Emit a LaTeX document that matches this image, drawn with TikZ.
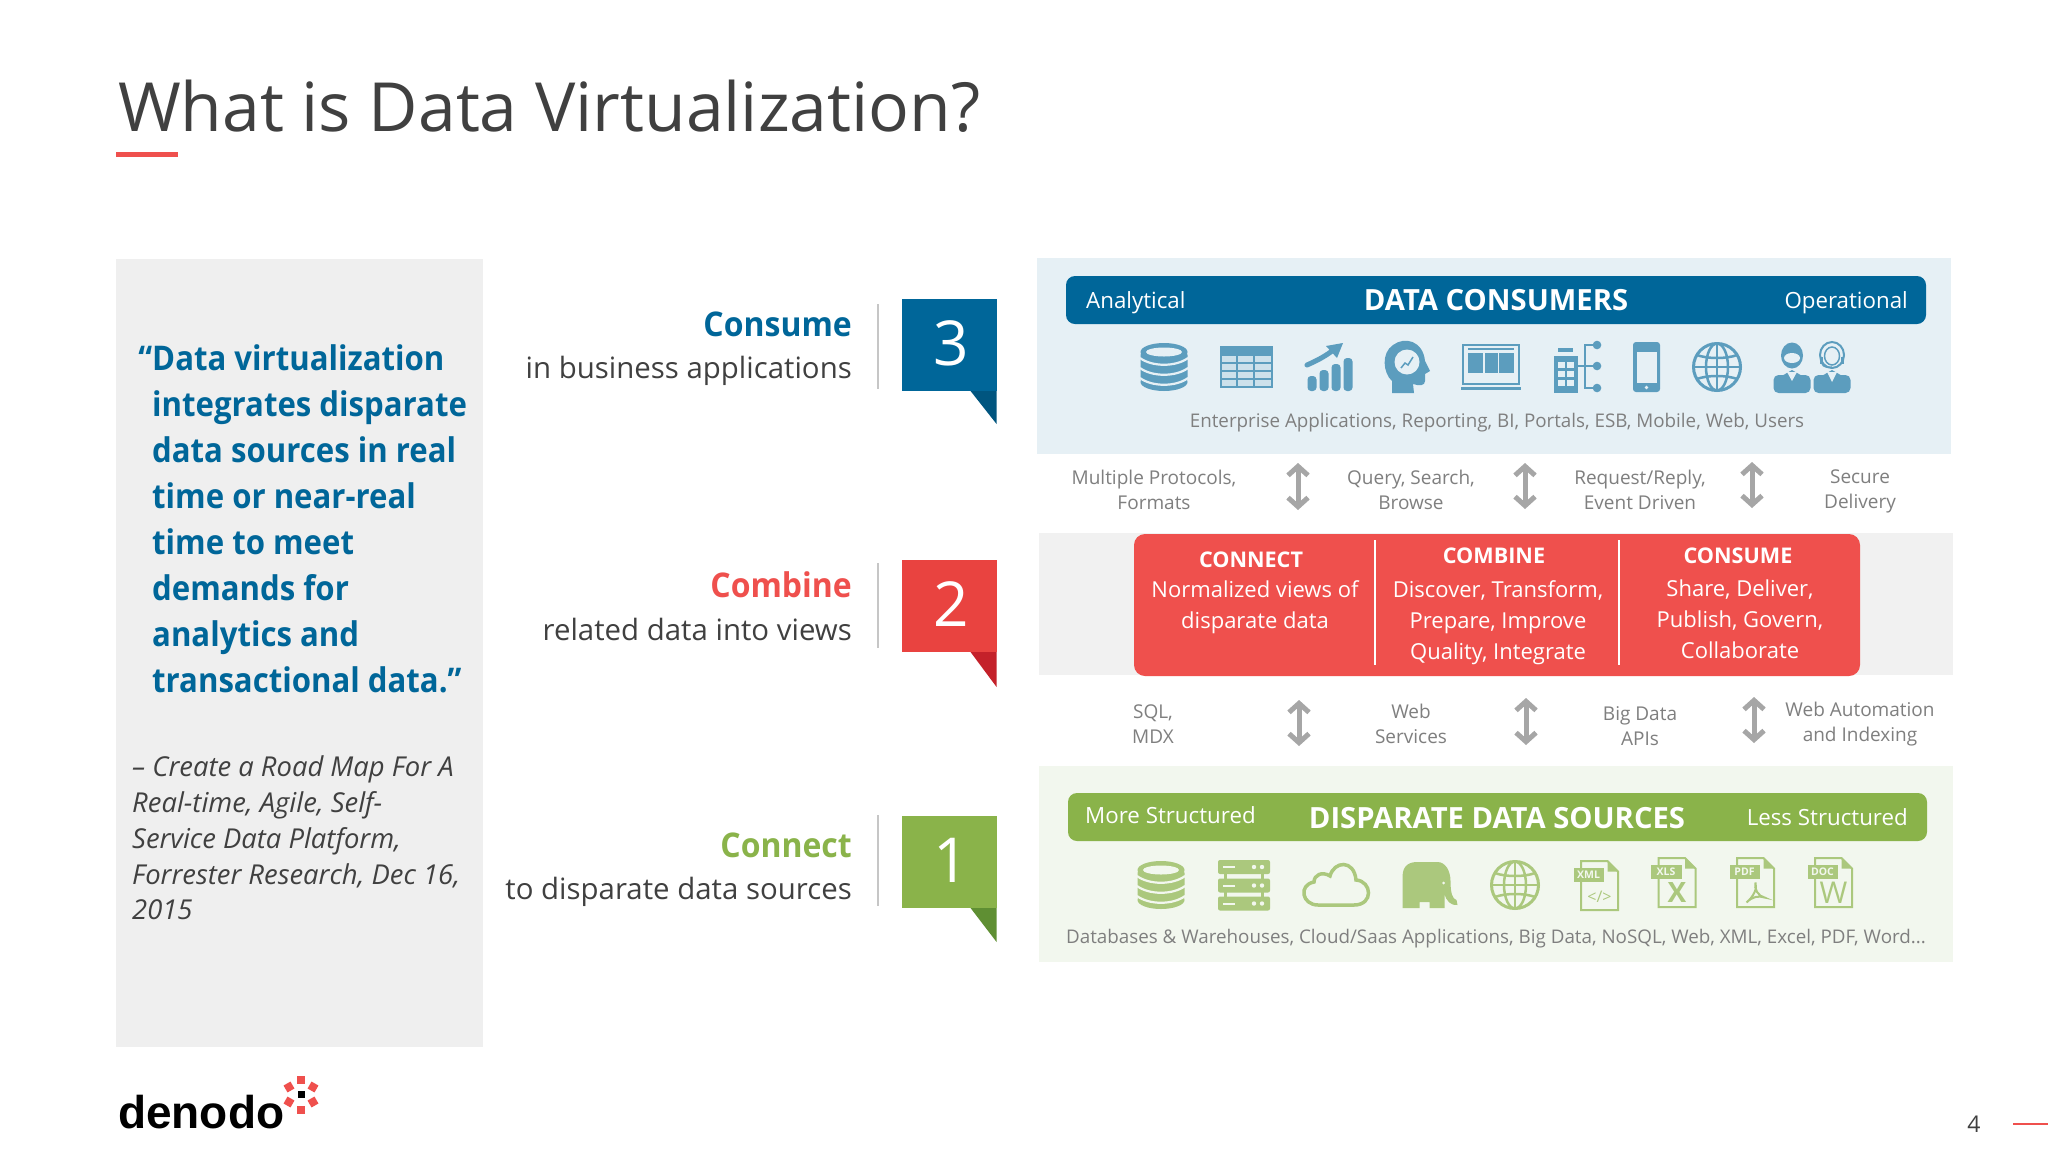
\documentclass[tikz,border=0pt]{standalone}
\usepackage{fontspec}
\setmainfont{Open Sans}
\newfontfamily\logofont{Liberation Sans}
\usetikzlibrary{arrows.meta}

\definecolor{denblue}{HTML}{006699}
\definecolor{denbluedark}{HTML}{00557F}
\definecolor{denred}{HTML}{EF504D}
\definecolor{denredbox}{HTML}{E94340}
\definecolor{denreddark}{HTML}{C4212A}
\definecolor{dengreen}{HTML}{8AB34A}
\definecolor{dengreendark}{HTML}{5F8F33}
\definecolor{panelblue}{HTML}{E6F0F5}
\definecolor{panelgrey}{HTML}{F1F1F1}
\definecolor{panelgreen}{HTML}{F2F7EE}
\definecolor{quotegrey}{HTML}{EFEFEF}
\definecolor{inktext}{HTML}{404040}
\definecolor{captext}{HTML}{7F7F7F}
\definecolor{arrowgrey}{HTML}{A6A6A6}
\colorlet{iconc}{black}
\colorlet{iconbg}{white}

\tikzset{
  txt/.style={inner sep=0pt},
  title/.style={txt,anchor=base west,text=inktext,font=\fontsize{67.8}{80}\selectfont},
  verb/.style={txt,anchor=base east,font=\fontsize{34}{40}\selectfont\bfseries\addfontfeature{FakeStretch=0.94}},
  verbsub/.style={txt,anchor=base east,text=inktext,font=\fontsize{29.4}{36}\selectfont},
  numbox/.style={txt,minimum width=95pt,minimum height=92pt,text=white,font=\fontsize{62}{70}\selectfont},
  barside/.style={txt,text=white,font=\fontsize{22.3}{28}\selectfont},
  barhead/.style={txt,text=white,font=\fontsize{29.2}{36}\selectfont\bfseries},
  caption/.style={txt,text=captext,font=\fontsize{18.8}{24}\selectfont},
  midlabel/.style={txt,align=center,text=captext,font=\fontsize{19}{25.5}\selectfont},
  redhead/.style={txt,text=white,font=\fontsize{21.6}{26}\selectfont\bfseries},
  redbody/.style={txt,align=center,text=white,font=\fontsize{22}{31}\selectfont},
  updown/.style={{Straight Barb[length=9pt,width=20pt,line width=5pt]}-{Straight Barb[length=9pt,width=20pt,line width=5pt]},arrowgrey,line width=5pt},
  pics/dbicon/.style={code={
    \fill[iconc,rounded corners=3pt] (-23.5,-15) rectangle (23.5,15);
    \fill[iconc] (0,-15) ellipse [x radius=23.5pt,y radius=9pt];
    \fill[iconc] (0,15) ellipse [x radius=23.5pt,y radius=9pt];
    \fill[iconbg] (0,-15) ellipse [x radius=18pt,y radius=4.5pt];
    \foreach \yy in {-9,1,11}
      \draw[iconbg,line width=2.2pt] (-24,\yy) .. controls (-12,\yy+9) and (12,\yy+9) .. (24,\yy);
  }},
  pics/tableicon/.style={code={
    \fill[iconc] (-26.5,-21) rectangle (26.5,21);
    \fill[iconbg!82!iconc] (-24.5,-11) rectangle (24.5,19);
    \foreach \xx in {-9,8} \draw[iconc,line width=1.2pt] (\xx,-11) -- (\xx,19);
    \foreach \yy in {-4,4,12} \draw[iconc,line width=1.2pt] (-24.5,\yy) -- (24.5,\yy);
  }},
  pics/charticon/.style={code={
    \foreach \xx in {-18,-6,6,18} \fill[iconc,rounded corners=3.5pt] (\xx-4.5,-\xx*0.5) rectangle (\xx+4.5,24);
    \draw[iconc,line width=5pt,line cap=round] (-23,-2) .. controls (-14,-6) and (-6,-10) .. (2,-16);
    \fill[iconc] (13,-24) -- (-4,-21) -- (7,-9) -- cycle;
  }},
  pics/headicon/.style={code={
    \fill[iconc] (-15,26) -- (-15,14) .. controls (-24,6) and (-26,-14) .. (-14,-22) .. controls (-2,-31) and (16,-26) .. (18,-6) -- (23,4) -- (18,7) -- (18,14) .. controls (18,19) and (12,19) .. (6,17) -- (7,26) -- cycle;
    \fill[iconbg] (0,-5) circle (12.5pt);
    \draw[iconc,line width=1.5pt] (-6,1) -- (-2,-4) -- (1,-2) -- (6,-10);
  }},
  pics/laptopicon/.style={code={
    \draw[iconc,line width=2pt] (-28,-22) rectangle (28,17);
    \fill[iconc] (-23,-19) rectangle (23,-17);
    \fill[iconc] (-23,-14) rectangle (-8,6);
    \fill[iconc] (-6.5,-14) rectangle (6.5,6);
    \fill[iconc] (8,-14) rectangle (23,6);
    \fill[iconc] (-30,20) rectangle (30,22.5);
  }},
  pics/orgicon/.style={code={
    \fill[iconc] (-19,-19) rectangle (-4,-15);
    \fill[iconc] (-23,-11) rectangle (1,26);
    \foreach \xx in {-19,-10} \foreach \yy in {-5,4,13} \fill[iconbg] (\xx,\yy) rectangle (\xx+7,\yy+6);
    \draw[iconc,line width=2pt] (20,-22) -- (8,-22) -- (8,21) -- (20,21) (1,-1) -- (20,-1);
    \foreach \yy in {-22,-1,21} \fill[iconc] (20,\yy) circle (4.3pt);
  }},
  pics/phoneicon/.style={code={
    \fill[iconc,rounded corners=3pt] (-13.5,-25) rectangle (13.5,25);
    \fill[iconbg] (-10,-15) rectangle (10,16);
    \fill[iconbg] (0,20.5) circle (1.8pt);
  }},
  pics/globeicon/.style={code={
    \draw[iconc,line width=3pt] (0,0) circle (23.5pt);
    \draw[iconc,line width=2.5pt] (0,0) ellipse [x radius=11pt,y radius=23.5pt];
    \draw[iconc,line width=2.5pt] (0,-24) -- (0,24) (-24,0) -- (24,0);
    \draw[iconc,line width=2.5pt] (-20,-12) .. controls (-10,-8) and (10,-8) .. (20,-12);
    \draw[iconc,line width=2.5pt] (-20,12) .. controls (-10,8) and (10,8) .. (20,12);
  }},
  pics/usersicon/.style={code={
    \fill[iconc,rounded corners=5pt] (-38.5,26) -- (-38.5,8) -- (-1.5,8) -- (-1.5,26) -- cycle;
    \fill[iconc,rounded corners=5pt] (1.5,26) -- (1.5,8) -- (38.5,8) -- (38.5,26) -- cycle;
    \fill[iconc] (-32,10) -- (-20,3) -- (-8,10) -- cycle;
    \fill[iconc] (8,10) -- (20,3) -- (32,10) -- cycle;
    \fill[iconbg] (-25,5) -- (-20,14) -- (-15,5) -- cycle;
    \fill[iconbg] (15,5) -- (20,15) -- (25,5) -- cycle;
    \fill[iconc] (-20,-11.5) ellipse [x radius=11pt,y radius=13pt];
    \fill[iconbg] (-20,-9) ellipse [x radius=8pt,y radius=5pt];
    \draw[iconc,line width=2pt] (20,-12) ellipse [x radius=12pt,y radius=13pt];
    \draw[iconc,line width=1.5pt] (20,-11) ellipse [x radius=7.5pt,y radius=9pt];
    \fill[iconc] (8,-10) rectangle (11,-3);
    \fill[iconc] (29,-10) rectangle (32,-3);
    \draw[iconc,line width=1.3pt] (10,-3) .. controls (11,0) and (16,1) .. (20,0);
  }},
  pics/servericon/.style={code={
    \foreach \xx in {-20,17} \fill[iconc] (\xx,-15) rectangle (\xx+3,15);
    \foreach \yy in {-25.5,-7,11} {
      \fill[iconc,rounded corners=2pt] (-26,\yy) rectangle (26,\yy+14);
      \fill[iconbg] (-21,\yy+6) rectangle (-9,\yy+8);
      \fill[iconbg] (10,\yy+7) circle (2.2pt);
      \fill[iconbg] (18,\yy+7) circle (2.2pt);
    }
  }},
  pics/cloudicon/.style={code={
    \draw[iconc,line width=3.5pt] (-18,20) .. controls (-34,20) and (-38,0) .. (-22,-3) .. controls (-22,-10) and (-14,-14) .. (-6,-9) .. controls (-2,-24) and (18,-26) .. (20,-5) .. controls (36,-4) and (38,20) .. (18,20) -- cycle;
  }},
  pics/elephanticon/.style={code={
    \fill[iconc] (-27,23) -- (-27,-8) .. controls (-27,-20) and (-20,-23) .. (-12,-23) -- (8,-23) .. controls (16,-23) and (21,-14) .. (21,-4) .. controls (21,8) and (23,14) .. (27,15) -- (28,20) .. controls (22,21) and (16,16) .. (15,8) -- (15,23) -- (0,23) -- (0,17) -- (-10,17) -- (-10,23) -- cycle;
    \fill[iconbg] (14,-2) circle (1.5pt);
  }},
  pics/fileicon/.style 2 args={code={
    \draw[iconc,line width=2pt,fill=iconbg] (-18.5,-24.5) -- (8,-24.5) -- (18.5,-14) -- (18.5,24.5) -- (-18.5,24.5) -- cycle;
    \fill[iconc] (8,-24.5) -- (8,-14) -- (18.5,-14) -- cycle;
    \fill[iconc] (-26,-17.5) rectangle (4.5,-3.5);
    \node[txt,text=iconbg,font=\fontsize{10.5}{12}\selectfont\bfseries] (tag) at (-11,-10.5) {#1};
    #2
  }}
}

\begin{document}
\begin{tikzpicture}[x=1pt,y=-1pt]
  \useasboundingbox (0,0) rectangle (2048,1152);
  \fill[white] (0,0) rectangle (2048,1152);

  % heading
  \node[title] (heading) at (118,131) {What is Data Virtualization?};
  \fill[denred] (116,152) rectangle (178,157);

  % quote panel
  \fill[quotegrey] (116,259) rectangle (483,1047);
  \node[txt,anchor=west,align=left,text=denblue,font=\fontsize{34}{46}\selectfont\bfseries\addfontfeature{FakeStretch=0.916}] (quote) at (152,519)
    {\llap{“}Data virtualization\\integrates disparate\\data sources in real\\time or near-real\\time to meet\\demands for\\analytics and\\transactional data.”};
  \node[txt,anchor=west,align=left,text=inktext,font=\fontsize{27.4}{35.8}\selectfont\itshape] (source) at (132,838)
    {– Create a Road Map For A\\Real-time, Agile, Self-\\Service Data Platform,\\Forrester Research, Dec 16,\\2015};

  % steps
  \node[verb,text=denblue] (consume) at (852,336) {Consume};
  \node[verbsub] (consumesub) at (852,378) {in business applications};
  \node[verb,text=denred] (combine) at (852,597) {Combine};
  \node[verbsub] (combinesub) at (852,640) {related data into views};
  \node[verb,text=dengreen] (connect) at (852,857) {Connect};
  \node[verbsub] (connectsub) at (852,899) {to disparate data sources};
  \draw[gray!45,line width=2pt] (878,304) -- (878,389) (878,563) -- (878,648) (878,815) -- (878,906);

  \node[numbox,fill=denblue] (three) at (949,345) {\hspace*{5pt}\raisebox{3pt}{3}};
  \node[numbox,fill=denredbox] (two) at (949,606) {\hspace*{5pt}\raisebox{3pt}{2}};
  \node[numbox,fill=dengreen] (one) at (949,862) {\hspace*{5pt}\raisebox{3pt}{1}};
  \fill[denbluedark] (three.south east) -- ++(-26,0) -- ++(26,33) -- cycle;
  \fill[denreddark] (two.south east) -- ++(-26,0) -- ++(26,35) -- cycle;
  \fill[dengreendark] (one.south east) -- ++(-26,0) -- ++(26,34) -- cycle;

  % consumers
  \fill[panelblue] (1037,258) rectangle (1951,454);
  \fill[denblue,rounded corners=9pt] (1066,276) rectangle (1926,324);
  \node[barside,anchor=base west] (analytical) at (1086,308) {Analytical};
  \node[barhead,anchor=base] (consumers) at (1496,310) {DATA CONSUMERS};
  \node[barside,anchor=base east] (operational) at (1908,308) {Operational};
  \colorlet{iconc}{denblue!64!white}
  \colorlet{iconbg}{panelblue}
  \foreach \icn/\xx in {dbicon/1164,tableicon/1246,charticon/1330,headicon/1407,laptopicon/1491,orgicon/1577,phoneicon/1646.5,globeicon/1717,usersicon/1812}
    \pic at (\xx,367) {\icn};
  \node[caption,anchor=base] (consumercap) at (1497,427) {Enterprise Applications, Reporting, BI, Portals, ESB, Mobile, Web, Users};

  % top protocols
  \node[midlabel] (prot) at (1154,490) {Multiple Protocols,\\Formats};
  \node[midlabel] (query) at (1411,490) {Query, Search,\\Browse};
  \node[midlabel] (request) at (1640,490) {Request/Reply,\\Event Driven};
  \node[midlabel] (secure) at (1860,491.5) {Secure\\Delivery};

  % combine panel
  \fill[panelgrey] (1039,533) rectangle (1953,675);
  \fill[denred,rounded corners=11pt] (1134,534) rectangle (1860,676);
  \draw[white,line width=1.5pt] (1375,540) -- (1375,665) (1619,540) -- (1619,665);
  \node[redhead,anchor=base] (connecthead) at (1251,567) {CONNECT};
  \node[redbody,anchor=north] (connectbody) at (1255,580) {Normalized views of\\disparate data};
  \node[redhead,anchor=base] (combinehead) at (1494,563) {COMBINE};
  \node[redbody,anchor=north] (combinebody) at (1498,580) {Discover, Transform,\\Prepare, Improve\\Quality, Integrate};
  \node[redhead,anchor=base] (consumehead) at (1738,563) {CONSUME};
  \node[redbody,anchor=north] (consumebody) at (1740,580) {Share, Deliver,\\Publish, Govern,\\Collaborate};

  % bottom protocols
  \node[midlabel] (sql) at (1153,724) {SQL,\\MDX};
  \node[midlabel] (webserv) at (1411,724) {Web\\Services};
  \node[midlabel] (bigdata) at (1640,726) {Big Data\\APIs};
  \node[midlabel] (automation) at (1860,724) {Web Automation\\and Indexing};

  \foreach \arr/\xx/\ya/\yb in {upa/1298/463/510,upb/1525/463/509,upc/1752/462/508,lowa/1299/700/746,lowb/1526/698/745,lowc/1754/697/743} {
    \coordinate (\arr top) at (\xx,\ya);
    \coordinate (\arr bot) at (\xx,\yb);
    \draw[updown] (\arr top) -- (\arr bot);
  }

  % sources
  \fill[panelgreen] (1039,766) rectangle (1953,962);
  \fill[dengreen,rounded corners=9pt] (1068,793) rectangle (1927,841);
  \node[barside,anchor=base west] (more) at (1085,823) {More Structured};
  \node[barhead,anchor=base] (sources) at (1497,828) {DISPARATE DATA SOURCES};
  \node[barside,anchor=base east] (less) at (1908,825) {Less Structured};
  \colorlet{iconc}{dengreen!72!white}
  \colorlet{iconbg}{panelgreen}
  \foreach \icn/\xx/\yy in {dbicon/1161/885,servericon/1244/885.5,cloudicon/1336/885,elephanticon/1429.5/885,globeicon/1515/885}
    \pic at (\xx,\yy) {\icn};
  \pic (xml) at (1599.5,885.5) {fileicon={XML}{\node[txt,text=iconc,font=\fontsize{16}{18}\selectfont] (glyph) at (0,11) {</>};}};
  \pic (xls) at (1677,882.5) {fileicon={XLS}{\node[txt,text=iconc,font=\fontsize{28}{30}\selectfont\bfseries] (glyph) at (0,10) {X};}};
  \pic (pdf) at (1755.5,882.5) {fileicon={PDF}{\draw[iconc,line width=2pt] (-9,20) .. controls (-2,14) and (2,6) .. (0,0) .. controls (-2,6) and (3,14) .. (9,15) .. controls (3,13) and (-3,14) .. (-9,20);}};
  \pic (doc) at (1833.5,882.5) {fileicon={DOC}{\node[txt,text=iconc,font=\fontsize{30}{32}\selectfont] (glyph) at (0,10) {W};}};
  \node[caption,anchor=base] (sourcecap) at (1496,943) {Databases \& Warehouses, Cloud/Saas Applications, Big Data, NoSQL, Web, XML, Excel, PDF, Word...};

  % logo and page number
  \node[txt,anchor=base west,font=\fontsize{46}{50}\selectfont\logofont\bfseries] (logo) at (118,1128) {denodo};
  \fill[black] (297.5,1090.5) rectangle (304.5,1097.5);
  \foreach \xx/\yy/\ang in {301/1080/0,289/1087/30,313/1087/-30,289/1102/-30,313/1102/30,301/1110/0}
    \fill[denred,rotate around={\ang:(\xx,\yy)}] (\xx-4,\yy-4) rectangle (\xx+4,\yy+4);
  \node[txt,text=inktext,font=\fontsize{23}{28}\selectfont] (pagenum) at (1974,1124) {4};
  \coordinate (ruleend) at (2048,1124);
  \coordinate (rulestart) at (2013,1124);
  \draw[denred,line width=1.5pt] (rulestart) -- (ruleend);
\end{tikzpicture}
\end{document}
